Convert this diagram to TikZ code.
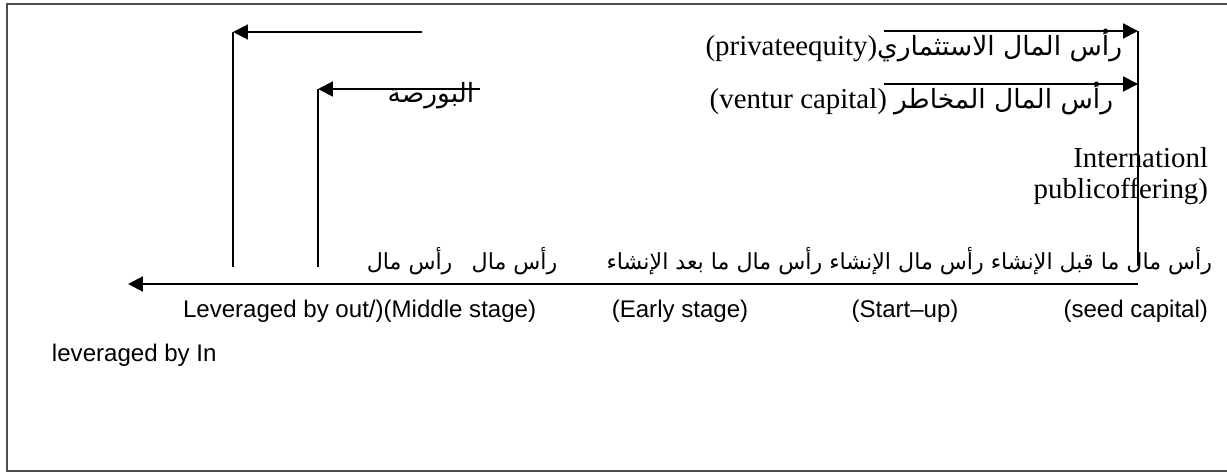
\documentclass[tikz,border=0pt]{standalone}
\usepackage{fontspec}
\setmainfont{Liberation Serif}
\setsansfont{Liberation Sans}
\newfontfamily\arabicfont[Script=Arabic]{DejaVu Sans}
\TeXXeTstate=1
\usetikzlibrary{arrows.meta}
\definecolor{frame}{HTML}{4d4d4d}
\newcommand\artext[1]{\hbox{\arabicfont\beginR #1\endR}}

\begin{document}
\begin{tikzpicture}[
  x=0.4155pt, y=-0.4155pt,
  every node/.style={inner sep=0pt, outer sep=0pt},
  flow/.style={draw=black, line width=0.85pt, -{Triangle[length=6.2pt,width=6.2pt]}},
  riser/.style={draw=black, line width=0.85pt},
  frame/.style={draw=frame, line width=0.6pt},
  serif/.style={font=\fontsize{12}{14}\selectfont},
  stage/.style={font=\sffamily\fontsize{10}{12}\selectfont},
  arab/.style={font=\arabicfont\fontsize{9.2}{11}\selectfont},
]
\useasboundingbox (0,0) rectangle (1227,475);
\draw[frame] (1240,4) -- (7,4) -- (7,471) -- (1240,471);
\coordinate (peTail) at (422,32);
\coordinate (peTip) at (233,32);
\coordinate (peFoot) at (233,267);
\draw[riser] (peFoot) -- (peTip);
\draw[flow] (peTail) -- (peTip);
\coordinate (bsTail) at (480,89);
\coordinate (bsTip) at (318,89);
\coordinate (bsFoot) at (318,267);
\draw[riser] (bsFoot) -- (bsTip);
\draw[flow] (bsTail) -- (bsTip);
\node[arab, font=\arabicfont\fontsize{11}{13}\selectfont] (bourse) at (431,96) {\artext{البورصة}};
\coordinate (ipoTop) at (1138,31);
\coordinate (ipoFoot) at (1138,266);
\draw[riser] (ipoTop) -- (ipoFoot);
\coordinate (peStart) at (884,31);
\draw[flow] (peStart) -- (ipoTop);
\coordinate (vcStart) at (884,84);
\coordinate (vcEnd) at (1138,84);
\draw[flow] (vcStart) -- (vcEnd);
\node[serif, anchor=east] (private) at (1122,46)
  {\hbox{(privateequity)}{\fontsize{11}{13}\selectfont\artext{رأس المال الاستثماري}}};
\node[serif, anchor=east] (venture) at (1113,99)
  {\hbox{(ventur capital)}\ {\fontsize{11}{13}\selectfont\artext{رأس المال المخاطر}}};
\node[serif, anchor=east] (ipoA) at (1208,158) {Internationl};
\node[serif, anchor=east] (ipoB) at (1208,191) {publicoffering)};
\node[arab, anchor=east] (stagesAr) at (1212,261)
  {\artext{رأس مال ما قبل الإنشاء رأس مال الإنشاء رأس مال ما بعد الإنشاء}};
\node[arab] (laterAr) at (462,261) {\artext{رأس مال\hspace{8pt}رأس مال}};
\coordinate (axStart) at (1138,284);
\coordinate (axEnd) at (128,284);
\draw[flow] (axStart) -- (axEnd);
\node[stage, anchor=west] (levOut) at (183,311) {Leveraged by out/)(Middle stage)};
\node[stage] (early) at (680,311) {(Early stage)};
\node[stage] (startup) at (905,311) {(Start--up)};
\node[stage, anchor=east] (seed) at (1208,311) {(seed capital)};
\node[stage, anchor=west] (levIn) at (52,355) {leveraged by In};
\end{tikzpicture}
\end{document}
